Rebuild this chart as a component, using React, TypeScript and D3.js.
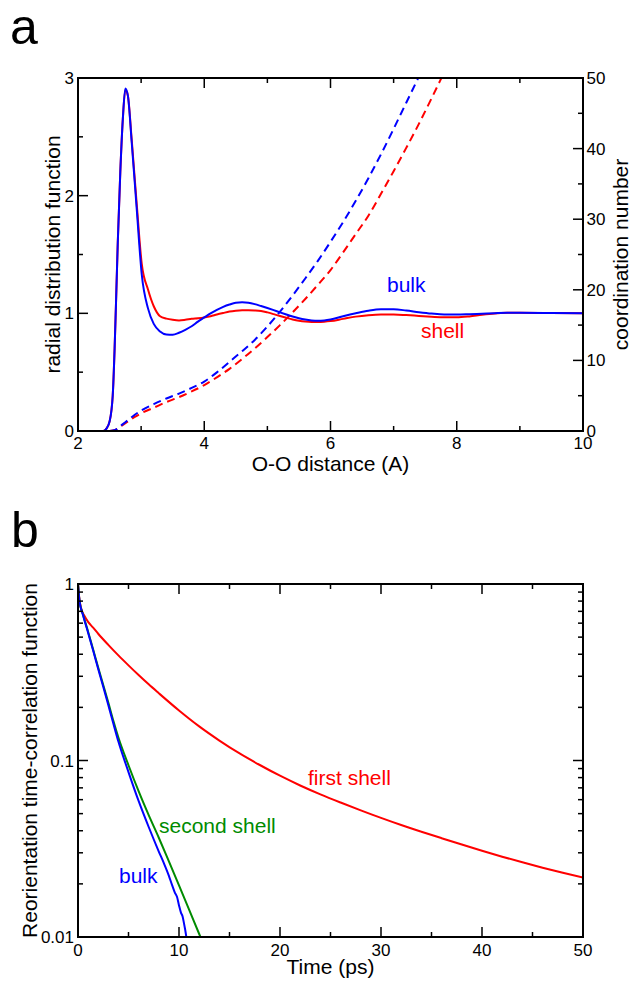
import { useEffect, useRef } from 'react'
import * as d3 from 'd3'

// panel a: radial distribution function g(r)
const R_GRID = [2.0, 2.4, 2.45, 2.5, 2.55, 2.58, 2.6, 2.63, 2.67, 2.71, 2.75, 2.79, 2.85, 2.93, 3.01, 3.11, 3.2, 3.3, 3.4, 3.5, 3.6, 3.7, 3.8, 3.9, 4.0, 4.1, 4.2, 4.3, 4.4, 4.5, 4.6, 4.7, 4.8, 4.9, 5.0, 5.1, 5.2, 5.3, 5.4, 5.5, 5.6, 5.7, 5.8, 5.9, 6.0, 6.2, 6.4, 6.6, 6.8, 7.0, 7.2, 7.4, 7.6, 7.8, 8.0, 8.2, 8.4, 8.6, 8.8, 9.0, 9.5, 10.0]
const G_BULK = [0, 0, 0.02, 0.08, 0.3, 0.7, 1.05, 1.6, 2.2, 2.65, 2.91, 2.85, 2.46, 1.89, 1.33, 1.04, 0.91, 0.845, 0.82, 0.818, 0.835, 0.86, 0.89, 0.93, 0.965, 1.0, 1.03, 1.055, 1.075, 1.09, 1.094, 1.09, 1.078, 1.062, 1.045, 1.027, 1.008, 0.99, 0.973, 0.958, 0.947, 0.94, 0.937, 0.94, 0.948, 0.975, 1.0, 1.022, 1.034, 1.034, 1.024, 1.01, 0.998, 0.99, 0.99, 0.993, 0.997, 1.001, 1.004, 1.005, 1.003, 1.0]
const G_SHELL = [0, 0, 0.02, 0.08, 0.3, 0.7, 1.05, 1.6, 2.2, 2.65, 2.9, 2.85, 2.48, 1.93, 1.42, 1.2, 1.06, 0.975, 0.955, 0.945, 0.94, 0.945, 0.953, 0.958, 0.965, 0.975, 0.99, 1.003, 1.015, 1.022, 1.026, 1.027, 1.025, 1.02, 1.008, 0.993, 0.977, 0.962, 0.948, 0.937, 0.93, 0.927, 0.927, 0.929, 0.934, 0.953, 0.972, 0.984, 0.99, 0.99, 0.985, 0.978, 0.971, 0.966, 0.966, 0.974, 0.988, 0.999, 1.004, 1.005, 1.002, 1.0]

// panel a: coordination numbers (right axis)
const CN_R = [2.5, 2.6, 2.7, 2.8, 2.9, 3.0, 3.2, 3.4, 3.6, 3.8, 4.0, 4.2, 4.4, 4.6, 4.8, 5.0, 5.2, 5.4, 5.6, 5.8, 6.0, 6.2, 6.4, 6.6, 6.8, 7.0, 7.2, 7.4, 7.6, 7.8, 8.0]
const CN_BULK = [0, 0.2, 0.9, 1.6, 2.3, 2.9, 3.8, 4.6, 5.3, 6.1, 7.0, 8.3, 9.8, 11.3, 12.9, 14.8, 16.9, 19.2, 21.6, 24.1, 26.8, 29.6, 32.6, 35.8, 39.2, 42.8, 46.5, 50.2, 54.0, 58.0, 62.0]
const CN_SHELL = [0, 0.2, 0.8, 1.4, 2.0, 2.5, 3.3, 4.1, 4.8, 5.6, 6.5, 7.6, 8.8, 10.2, 11.7, 13.3, 15.0, 16.8, 18.7, 20.7, 22.8, 25.3, 27.9, 30.5, 33.6, 36.8, 40.1, 43.5, 47.1, 50.8, 54.5]

// panel b: reorientation time-correlation functions
const T_FIRST = [0, 0.1, 0.2, 0.4, 0.6, 1, 1.5, 2, 3, 4, 5, 6, 7, 8, 10, 12, 14, 16, 18, 20, 22, 24, 26, 28, 30, 32, 34, 36, 38, 40, 42, 44, 46, 48, 50]
const C_FIRST = [1.0, 0.86, 0.78, 0.7, 0.665, 0.61, 0.566, 0.5225, 0.452, 0.394, 0.346, 0.305, 0.27, 0.2405, 0.192, 0.156, 0.1297, 0.1096, 0.0943, 0.082, 0.0722, 0.0643, 0.0578, 0.0522, 0.0473, 0.0431, 0.0395, 0.0363, 0.0334, 0.0308, 0.0285, 0.0265, 0.0247, 0.0231, 0.0217]
const T_SECOND = [0, 0.15, 0.5, 1, 1.5, 2, 2.5, 3, 3.5, 4, 5, 6, 7, 8, 9, 10, 11, 12, 12.5]
const C_SECOND = [1.0, 0.8, 0.67, 0.537, 0.425, 0.336, 0.268, 0.213, 0.168, 0.135, 0.094, 0.067, 0.049, 0.0365, 0.0268, 0.0196, 0.0143, 0.0104, 0.0089]
const T_BULK = [0, 0.15, 0.5, 1, 1.5, 2, 2.5, 3, 3.5, 4, 5, 6, 7, 8, 8.5, 9, 9.3, 9.6, 9.8, 10, 10.2, 10.35, 10.5, 10.6, 10.75]
const C_BULK = [1.0, 0.8, 0.665, 0.53, 0.42, 0.33, 0.262, 0.206, 0.162, 0.128, 0.086, 0.059, 0.042, 0.0305, 0.0262, 0.0222, 0.0198, 0.0178, 0.0169, 0.0151, 0.0137, 0.0131, 0.0119, 0.0111, 0.0098]

const X_TICKS_A = [2, 4, 6, 8, 10]
const X_MINOR_A = [3, 5, 7, 9]
const YL_TICKS_A = [0, 1, 2, 3]
const YL_MINOR_A = [0.5, 1.5, 2.5]
const YR_TICKS_A = [0, 10, 20, 30, 40, 50]
const YR_MINOR_A = [5, 15, 25, 35, 45]
const X_TICKS_B = [0, 10, 20, 30, 40, 50]
const X_MINOR_B = [5, 15, 25, 35, 45]
const Y_TICKS_B = [0.01, 0.1, 1]
const Y_LABELS_B = ['0.01', '0.1', '1']
const Y_MINOR_B = [0.02, 0.03, 0.04, 0.05, 0.06, 0.07, 0.08, 0.09, 0.2, 0.3, 0.4, 0.5, 0.6, 0.7, 0.8, 0.9]

const FONT = '"Liberation Sans", Arial, Helvetica, sans-serif'
const BLUE = '#0000ff'
const RED = '#ff0000'
const GREEN = '#008b00'

export default function App() {
  const ref = useRef<SVGSVGElement>(null)

  useEffect(() => {
    if (!ref.current) return
    const svg = d3.select(ref.current)
    svg.selectAll('*').remove()
    svg.attr('font-family', FONT)

    const tick = (g: any, x1: number, y1: number, x2: number, y2: number) =>
      g.append('line').attr('x1', x1).attr('y1', y1).attr('x2', x2).attr('y2', y2)
        .attr('stroke', '#000').attr('stroke-width', 1.5)

    const label = (g: any, x: number, y: number, t: string, size: number, anchor = 'middle', fill = '#000') =>
      g.append('text').attr('x', x).attr('y', y).attr('font-size', size)
        .attr('text-anchor', anchor).attr('fill', fill).text(t)

    // ---------- panel a ----------
    const L = 78, R = 583
    const aTop = 78, aBot = 431
    const xA = d3.scaleLinear().domain([2, 10]).range([L, R])
    const yA = d3.scaleLinear().domain([0, 3]).range([aBot, aTop])
    const yA2 = d3.scaleLinear().domain([0, 50]).range([aBot, aTop])

    const ga = svg.append('g')
    ga.append('clipPath').attr('id', 'clipA').append('rect')
      .attr('x', L).attr('y', aTop).attr('width', R - L).attr('height', aBot - aTop)

    const cnLine = d3.line<number>().x((_, i) => xA(CN_R[i])).y((d) => yA2(d)).curve(d3.curveMonotoneX)
    const gLine = d3.line<number>().x((_, i) => xA(R_GRID[i])).y((d) => yA(d)).curve(d3.curveMonotoneX)
    const plotA = ga.append('g').attr('clip-path', 'url(#clipA)')
    ;[[CN_SHELL, RED], [CN_BULK, BLUE]].forEach(([d, c]: any) => {
      plotA.append('path').attr('d', cnLine(d)).attr('fill', 'none').attr('stroke', c)
        .attr('stroke-width', 2).attr('stroke-dasharray', '8,5')
    })
    ;[[G_SHELL, RED], [G_BULK, BLUE]].forEach(([d, c]: any) => {
      plotA.append('path').attr('d', gLine(d)).attr('fill', 'none').attr('stroke', c).attr('stroke-width', 2)
    })

    ga.append('rect').attr('x', L).attr('y', aTop).attr('width', R - L).attr('height', aBot - aTop)
      .attr('fill', 'none').attr('stroke', '#000').attr('stroke-width', 2)

    X_TICKS_A.forEach((v) => {
      tick(ga, xA(v), aBot, xA(v), aBot - 10)
      tick(ga, xA(v), aTop, xA(v), aTop + 10)
      label(ga, xA(v), aBot + 18, String(v), 17)
    })
    X_MINOR_A.forEach((v) => {
      tick(ga, xA(v), aBot, xA(v), aBot - 5)
      tick(ga, xA(v), aTop, xA(v), aTop + 5)
    })
    YL_TICKS_A.forEach((v) => {
      tick(ga, L, yA(v), L + 10, yA(v))
      label(ga, L - 4, yA(v) + 6, String(v), 17, 'end')
    })
    YL_MINOR_A.forEach((v) => tick(ga, L, yA(v), L + 5, yA(v)))
    YR_TICKS_A.forEach((v) => {
      tick(ga, R, yA2(v), R - 10, yA2(v))
      label(ga, R + 3.5, yA2(v) + 6, String(v), 17, 'start')
    })
    YR_MINOR_A.forEach((v) => tick(ga, R, yA2(v), R - 5, yA2(v)))

    label(ga, (L + R) / 2, 471, 'O-O distance (A)', 21)
    label(ga, 0, 0, 'radial distribution function', 21)
      .attr('transform', `translate(60,${(aTop + aBot) / 2}) rotate(-90)`)
    label(ga, 0, 0, 'coordination number', 21)
      .attr('transform', `translate(628,${(aTop + aBot) / 2}) rotate(-90)`)
    label(ga, 387, 291.5, 'bulk', 21, 'start', BLUE)
    label(ga, 421, 338, 'shell', 21, 'start', RED)
    label(ga, 10, 44, 'a', 50, 'start')

    // ---------- panel b ----------
    const bTop = 584, bBot = 937
    const xB = d3.scaleLinear().domain([0, 50]).range([L, R])
    const yB = d3.scaleLog().domain([0.01, 1]).range([bBot, bTop])

    const gb = svg.append('g')
    gb.append('clipPath').attr('id', 'clipB').append('rect')
      .attr('x', L).attr('y', bTop).attr('width', R - L).attr('height', bBot - bTop)
    const plotB = gb.append('g').attr('clip-path', 'url(#clipB)')
    const series: [number[], number[], string][] = [
      [T_FIRST, C_FIRST, RED],
      [T_SECOND, C_SECOND, GREEN],
      [T_BULK, C_BULK, BLUE],
    ]
    series.forEach(([ts, cs, c]) => {
      const line = d3.line<number>().x((_, i) => xB(ts[i])).y((d) => yB(d)).curve(d3.curveMonotoneX)
      plotB.append('path').attr('d', line(cs)).attr('fill', 'none').attr('stroke', c).attr('stroke-width', 2)
    })

    gb.append('rect').attr('x', L).attr('y', bTop).attr('width', R - L).attr('height', bBot - bTop)
      .attr('fill', 'none').attr('stroke', '#000').attr('stroke-width', 2)

    X_TICKS_B.forEach((v) => {
      tick(gb, xB(v), bBot, xB(v), bBot - 10)
      tick(gb, xB(v), bTop, xB(v), bTop + 10)
      label(gb, xB(v), bBot + 19, String(v), 17)
    })
    X_MINOR_B.forEach((v) => {
      tick(gb, xB(v), bBot, xB(v), bBot - 5)
      tick(gb, xB(v), bTop, xB(v), bTop + 5)
    })
    Y_TICKS_B.forEach((v, i) => {
      tick(gb, L, yB(v), L + 10, yB(v))
      tick(gb, R, yB(v), R - 10, yB(v))
      label(gb, L - 4, yB(v) + 6, Y_LABELS_B[i], 17, 'end')
    })
    Y_MINOR_B.forEach((v) => {
      tick(gb, L, yB(v), L + 5, yB(v))
      tick(gb, R, yB(v), R - 5, yB(v))
    })

    label(gb, (L + R) / 2, 974, 'Time (ps)', 21)
    label(gb, 0, 0, 'Reorientation time-correlation function', 21)
      .attr('transform', `translate(37,${(bTop + bBot) / 2}) rotate(-90)`)
    label(gb, 308, 785, 'first shell', 21, 'start', RED)
    label(gb, 159, 832.5, 'second shell', 21, 'start', GREEN)
    label(gb, 119, 883, 'bulk', 21, 'start', BLUE)
    label(gb, 11, 546.5, 'b', 50, 'start')

    return () => { svg.selectAll('*').remove() }
  }, [])

  return (
    <svg
      ref={ref}
      width={631}
      height={981}
      style={{ position: 'absolute', left: 0, top: 0, background: '#fff' }}
    />
  )
}
